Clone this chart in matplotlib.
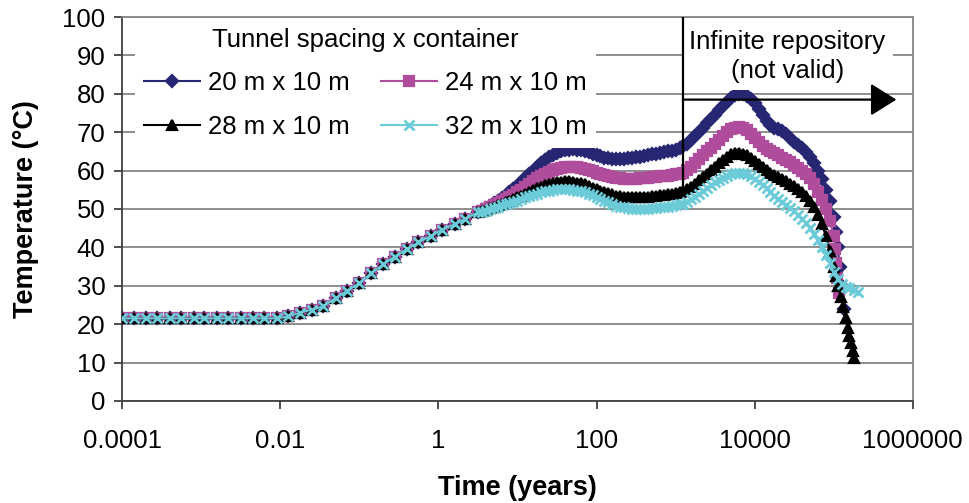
import matplotlib
matplotlib.use("Agg")
from matplotlib import pyplot as plt
from matplotlib.ticker import NullLocator

plt.rcParams['font.family'] = ['Liberation Sans', 'DejaVu Sans']

# early part: all four layouts coincide
t_early = [0.0001, 0.00014, 0.0002, 0.00028, 0.0004, 0.00056, 0.0008, 0.0011,
           0.0016, 0.0022, 0.0032, 0.0045, 0.0063, 0.009, 0.0125, 0.018, 0.025,
           0.035, 0.05, 0.07, 0.1, 0.14, 0.2, 0.28, 0.4, 0.56, 0.8, 1.1, 1.6,
           2.2, 3.2]
T_early = [21.5, 21.5, 21.5, 21.5, 21.5, 21.5, 21.5, 21.5, 21.5, 21.5, 21.5,
           21.5, 21.5, 21.5, 22.0, 23.0, 23.8, 24.6, 26.8, 28.7, 30.7, 33.2,
           35.6, 37.6, 39.6, 41.3, 43.0, 44.6, 46.0, 47.5, 49.2]

# later part, shared time grid (years)
t_late = [3.55, 4, 4.5, 5, 5.6, 6.3, 7.1, 7.9, 8.9,
          10, 11.2, 12.6, 14.1, 15.8, 17.8, 20, 22.4, 25.1, 28.2,
          31.6, 35.5, 39.8, 44.7, 50.1, 56.2, 63.1, 70.8, 79.4, 89.1,
          100, 112, 126, 141, 158, 178, 200, 224, 251, 282,
          316, 355, 398, 447, 501, 562, 631, 708, 794, 891,
          1000, 1122, 1259, 1413, 1585, 1778, 1995, 2239, 2512, 2818,
          3162, 3548, 3981, 4467, 5012, 5623, 6310, 7079, 7943, 8913,
          10000, 11220, 12589, 14125, 15849, 17783, 19953, 22387, 25119, 28184,
          31623, 35481, 39811, 44668, 50119, 56234, 63096, 70795, 79433, 89125]

T_20 = [49.7, 50.2, 50.8, 51.5, 52.1, 52.8, 53.5, 54.3, 55.1,
        56, 57, 58, 59, 60, 61, 62, 62.8, 63.5, 64,
        64.5, 65, 65.3, 65.5, 65.6, 65.5, 65.3, 65.1, 64.8, 64.4,
        64, 63.7, 63.4, 63.2, 63, 63, 63, 63.1, 63.2, 63.3,
        63.5, 63.6, 63.8, 64, 64.2, 64.4, 64.6, 64.8, 65, 65.2,
        65.5, 65.8, 66.3, 67, 68, 69, 70, 71.2, 72.3, 73.4,
        74.5, 75.7, 76.8, 78, 79, 79.7, 80, 79.9, 79.5, 78.7,
        77.5, 76, 74.5, 73, 71.8, 71.2, 70.8, 70.2, 69.5, 68.5,
        67.5, 66.8, 66, 64.8, 63.5, 62, 60, 57.7, 55, 52]
T_24 = [49.6, 50, 50.5, 51, 51.5, 52, 52.5, 53, 53.6,
        54.3, 55, 55.8, 56.5, 57.3, 58, 58.6, 59.2, 59.7, 60.1,
        60.5, 60.8, 61, 61, 61, 60.9, 60.7, 60.5, 60.2, 59.9,
        59.5, 59.1, 58.8, 58.5, 58.3, 58.1, 58, 57.9, 57.8, 57.8,
        57.9, 58, 58.1, 58.2, 58.3, 58.4, 58.5, 58.6, 58.7, 58.8,
        59, 59.2, 59.5, 60.2, 61, 62, 63, 64, 65, 66,
        67, 68, 69, 70, 70.8, 71.2, 71.4, 71.1, 70.5, 69.6,
        68.5, 67.5, 66.5, 65.7, 65, 64.5, 64, 63.4, 62.8, 62.2,
        61.5, 60.8, 60, 59.1, 58, 56.5, 54.5, 52.4, 50, 47]
T_28 = [49.5, 49.8, 50.2, 50.6, 51, 51.4, 51.8, 52.2, 52.6,
        53, 53.5, 54, 54.5, 55, 55.4, 55.8, 56.2, 56.5, 56.8,
        57, 57.1, 57.2, 57.2, 57.1, 56.9, 56.7, 56.4, 56, 55.6,
        55.2, 54.8, 54.4, 54.1, 53.8, 53.5, 53.3, 53.1, 53, 53,
        53, 53, 53.1, 53.2, 53.3, 53.4, 53.6, 53.7, 53.9, 54,
        54.2, 54.4, 54.6, 55.1, 55.8, 56.6, 57.5, 58.4, 59.2, 60.1,
        61, 61.9, 62.8, 63.6, 64.2, 64.5, 64.6, 64.4, 64, 63.3,
        62.5, 61.8, 61, 60.2, 59.5, 58.9, 58.3, 57.8, 57.2, 56.6,
        56, 55.3, 54.5, 53.4, 52, 50.4, 48.5, 46, 43, 39]
T_32 = [49.2, 49.5, 49.9, 50.2, 50.6, 51, 51.3, 51.6, 51.9,
        52.2, 52.6, 53, 53.4, 53.7, 54, 54.3, 54.6, 54.8, 55,
        55.1, 55.2, 55.2, 55.1, 55, 54.8, 54.6, 54.3, 54, 53.6,
        53.2, 52.7, 52.2, 51.7, 51.3, 50.9, 50.6, 50.4, 50.2, 50.1,
        50, 50, 50, 50.1, 50.2, 50.3, 50.4, 50.5, 50.6, 50.8,
        51, 51.2, 51.4, 51.9, 52.5, 53.2, 54, 54.8, 55.5, 56.3,
        57, 57.6, 58.2, 58.7, 59.2, 59.4, 59.5, 59.3, 59, 58.5,
        57.8, 57.1, 56.3, 55.4, 54.5, 53.5, 52.5, 51.7, 51, 50.3,
        49.5, 48.5, 47.5, 46.3, 45, 43.5, 42, 40, 38, 36]

# cooling tails
t_tail_20 = [100000, 106000, 112000, 119000, 126000, 135000]
T_tail_20 = [48, 44, 40, 35, 30, 24]
t_tail_24 = [100000, 104000, 107000, 111000, 115000]
T_tail_24 = [43, 39.5, 36, 32, 28]
t_tail_28 = [100000, 106000, 112000, 123000, 132000, 141000, 151000, 158000,
             166000, 174000, 178000]
T_tail_28 = [35, 32.5, 30, 27, 24.5, 21.5, 19, 17, 15, 13, 11.3]
t_tail_32 = [100000, 112000, 126000, 141000, 158000, 178000, 200000]
T_tail_32 = [33.5, 31.8, 30.5, 29.8, 29.3, 28.9, 28.5]

labels = ['20 m x 10 m', '24 m x 10 m', '28 m x 10 m', '32 m x 10 m']
colors = ['#262673', '#b04c9c', '#000000', '#6ccbd8']
markers = ['D', 's', '^', 'x']

x_ticks = [0.0001, 0.01, 1, 100, 10000, 1000000]
x_tick_labels = ['0.0001', '0.01', '1', '100', '10000', '1000000']

# start of "infinite repository" region
t_valid = 1230

fig = plt.figure(figsize=(9.69, 5.03), dpi=100)
ax = fig.add_axes([0.126, 0.203, 0.816, 0.763])

series = [(T_20, t_tail_20, T_tail_20), (T_24, t_tail_24, T_tail_24),
          (T_28, t_tail_28, T_tail_28), (T_32, t_tail_32, T_tail_32)]
sizes = [5.8, 7.0, 7.6, 7.6]
edge_w = [1.6, 1.6, 1.6, 2.0]
handles = []
for i, (T_mid, t_tail, T_tail) in enumerate(series):
    t = t_early + t_late + t_tail
    T = T_early + T_mid + T_tail
    h, = ax.plot(t, T, color=colors[i], marker=markers[i], ms=sizes[i],
                 mec=colors[i], mfc=colors[i], mew=edge_w[i], lw=1.5,
                 label=labels[i], zorder=3 + i)
    handles.append(h)

ax.set_xscale('log')
ax.set_xlim(1e-4, 1e6)
ax.set_ylim(0, 100)
ax.set_xticks(x_ticks)
ax.set_xticklabels(x_tick_labels)
ax.xaxis.set_minor_locator(NullLocator())
ax.set_yticks(range(0, 101, 10))
ax.grid(axis='y', color='#868686', lw=1.3)
ax.set_axisbelow(True)
for s in ax.spines.values():
    s.set_color('#868686')
    s.set_linewidth(1.3)
ax.spines['left'].set_color('#404040')
ax.spines['bottom'].set_color('#404040')
ax.tick_params(direction='out', length=6, width=1.3, color='#404040',
               labelsize=18.5)
ax.tick_params(axis='x', pad=14)
ax.tick_params(axis='y', pad=6)

ax.set_xlabel('Time (years)', fontsize=19.5, fontweight='bold', labelpad=16)
ax.set_ylabel('Temperature (°C)', fontsize=19.5, fontweight='bold',
              labelpad=17)

# row-wise order: 20 | 24 on top, 28 | 32 below
order = [0, 2, 1, 3]
leg = ax.legend([handles[k] for k in order], [labels[k] for k in order],
                ncol=2, title='Tunnel spacing x container', fontsize=18.5,
                title_fontsize=18.5, loc='upper left',
                bbox_to_anchor=(0.016, 0.995), borderaxespad=0,
                frameon=True, fancybox=False, framealpha=1,
                handlelength=2.2, handletextpad=0.3, columnspacing=1.2,
                labelspacing=0.75, borderpad=0.35)
leg.get_frame().set_edgecolor('none')
leg.set_zorder(10)

ax.plot([t_valid, t_valid], [100, 55.5], color='black', lw=1.6, zorder=12)
ax.annotate('', xy=(6.2e5, 78.5), xytext=(t_valid, 78.5),
            arrowprops=dict(arrowstyle='-|>,head_length=0.8,head_width=0.5',
                            color='black', lw=1.6, mutation_scale=20,
                            shrinkA=0, shrinkB=0), zorder=12)
ax.text(2.6e4, 89.8, 'Infinite repository\n(not valid)', fontsize=18.5,
        ha='center', va='center', multialignment='center', linespacing=1.25,
        bbox=dict(boxstyle='square,pad=0.3', fc='white', ec='none'),
        zorder=11)

fig.savefig('out.png', dpi=100)
